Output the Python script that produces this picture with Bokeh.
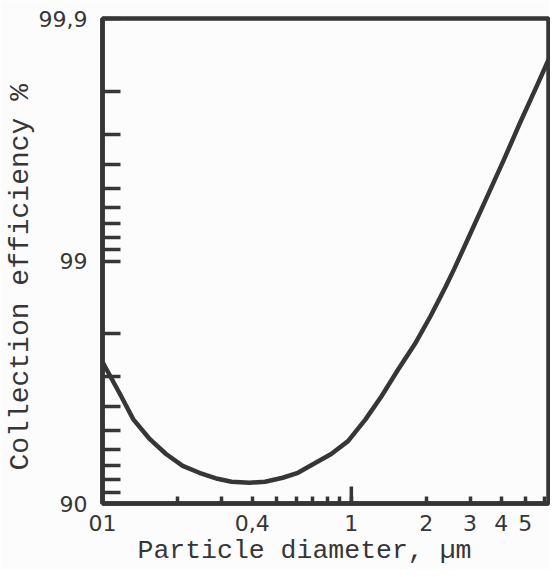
import numpy as np
from bokeh.plotting import figure
from bokeh.models import (FixedTicker, CustomJSTickFormatter, Range1d, Title)
from bokeh.embed import file_html
from bokeh.resources import INLINE

# ---- data ----
diameter_um = [0.1, 0.118, 0.133, 0.155, 0.18, 0.21, 0.245, 0.29, 0.33, 0.39,
               0.45, 0.53, 0.61, 0.83, 0.97, 1.14, 1.32, 1.54, 1.8, 2.08,
               2.39, 2.6, 3.0, 3.5, 4.1, 4.75, 5.55, 6.2]
efficiency_pct = [97.39, 96.44, 95.5, 94.57, 93.75, 93.0, 92.53, 92.09, 91.87, 91.79,
                  91.87, 92.17, 92.53, 93.75, 94.47, 95.5, 96.38, 97.19, 97.8, 98.31,
                  98.72, 98.93, 99.224, 99.452, 99.617, 99.729, 99.809, 99.852]

y_major_ticks = [90, 99, 99.9]
y_minor_ticks = [91, 92, 93, 94, 95, 96, 97, 98,
                 99.1, 99.2, 99.3, 99.4, 99.5, 99.6, 99.7, 99.8]
x_major_ticks = [0.1, 0.4, 1, 2, 3, 4, 5]
x_major_labels = ["01", "0,4", "1", "2", "3", "4", "5"]
x_minor_ticks = [0.2, 0.3, 0.5, 0.6, 0.7, 0.8, 0.9, 6]
x_long_tick = [1]
x_end = 6.2


def level(e):
    """position on a log-penetration (1 - efficiency) scale"""
    return -np.log10(1.0 - np.asarray(e, dtype=float) / 100.0)


INK = "#363636"
BG = "#fcfcfc"

p = figure(width=550, height=569, x_axis_type="log",
           x_range=Range1d(diameter_um[0], x_end),
           y_range=Range1d(float(level(y_major_ticks[0])), float(level(y_major_ticks[-1]))),
           output_backend="svg", toolbar_location=None,
           min_border_left=102, min_border_right=2, min_border_top=18, min_border_bottom=66,
           background_fill_color=BG, border_fill_color=BG)

p.grid.visible = False
p.outline_line_color = INK
p.outline_line_width = 4.5

# curve
p.line(diameter_um, level(efficiency_pct), line_color=INK, line_width=4.5,
       line_join="round", line_cap="round")

# taller tick at 1 µm on the bottom axis
p.ray(x=x_long_tick, y=[float(level(y_major_ticks[0]))] * len(x_long_tick),
      length=17, length_units="screen", angle=np.pi / 2,
      line_color=INK, line_width=3.5)

# y axis
ya = p.yaxis[0]
ya.ticker = FixedTicker(ticks=[float(v) for v in level(y_major_ticks)],
                        minor_ticks=[float(v) for v in level(y_minor_ticks)])
ya.formatter = CustomJSTickFormatter(code="""
    const e = 100 * (1 - Math.pow(10, -tick));
    return (Math.round(e * 10) / 10).toString().replace('.', ',');
""")
ya.axis_line_color = INK
ya.axis_line_width = 4.5
ya.major_tick_in = 18
ya.major_tick_out = 0
ya.minor_tick_in = 18
ya.minor_tick_out = 0
ya.major_tick_line_color = INK
ya.minor_tick_line_color = INK
ya.major_tick_line_width = 3.5
ya.minor_tick_line_width = 3.5
ya.major_label_standoff = 15
ya.major_label_text_font = "DejaVu Sans"
ya.major_label_text_font_size = "22px"
ya.major_label_text_color = INK

# x axis
xa = p.xaxis[0]
xa.ticker = FixedTicker(ticks=x_major_ticks, minor_ticks=x_minor_ticks)
xa.formatter = CustomJSTickFormatter(args=dict(vals=x_major_ticks, labs=x_major_labels), code="""
    for (let i = 0; i < vals.length; i++) {
        if (Math.abs(vals[i] - tick) < 1e-9 * Math.max(1, vals[i])) return labs[i];
    }
    return "";
""")
xa.axis_line_color = INK
xa.axis_line_width = 4.5
xa.major_tick_in = 7
xa.major_tick_out = 0
xa.minor_tick_in = 7
xa.minor_tick_out = 0
xa.major_tick_line_color = INK
xa.minor_tick_line_color = INK
xa.major_tick_line_width = 3.5
xa.minor_tick_line_width = 3.5
xa.major_label_standoff = 11
xa.major_label_text_font = "DejaVu Sans"
xa.major_label_text_font_size = "22px"
xa.major_label_text_color = INK

p.add_layout(Title(text="Collection efficiency %", align="left", offset=33, standoff=0,
                   text_font="Liberation Mono", text_font_size="28px",
                   text_font_style="normal", text_color=INK), "left")
p.add_layout(Title(text="Particle diameter, \u00b5m", align="left", offset=35, standoff=0,
                   text_font="Liberation Mono", text_font_size="26.5px",
                   text_font_style="normal", text_color=INK), "below")

open("out.html", "w").write(file_html(p, INLINE))
